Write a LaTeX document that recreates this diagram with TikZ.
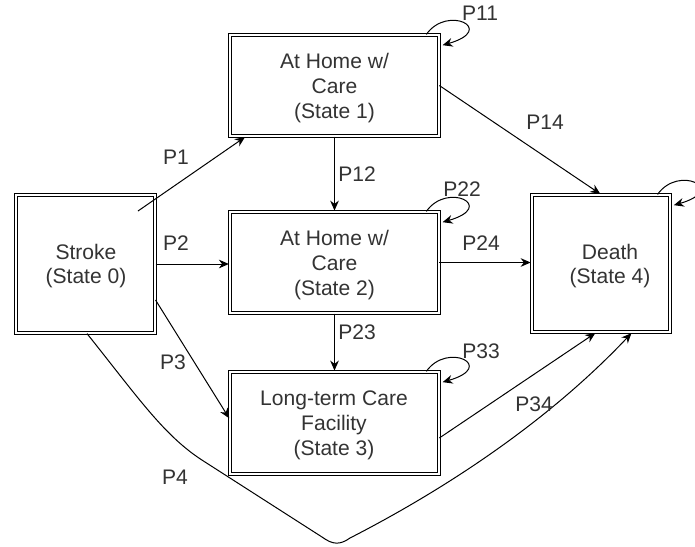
\documentclass[tikz,border=0pt]{standalone}
\usepackage{fontspec}
\setmainfont{Liberation Sans}
\usetikzlibrary{arrows.meta,calc}
\begin{document}
\begin{tikzpicture}[x=0.75pt,y=-0.75pt,
  txt/.style={font=\fontsize{15.8}{18.6}\selectfont, text=black!80},
  state/.style={draw=black, line width=0.85pt, double=white,
    double distance=1.4pt, inner sep=0pt},
  statetext/.style={txt, align=center, inner sep=0pt},
  lbl/.style={txt, inner sep=0pt},
  arr/.style={draw=black, line width=0.75pt,
    -{Stealth[length=7.5pt,width=6.5pt]}, shorten >=0.6pt}]
\useasboundingbox (0,0) rectangle (695,546);
\clip (0,0) rectangle (695,546);

% states
\node[state, minimum width=104.2pt, minimum height=103.5pt] (s0) at (85.5,264) {};
\node[state, minimum width=156.4pt, minimum height=75.8pt] (s1) at (334.5,85.5) {};
\node[state, minimum width=156.4pt, minimum height=75.8pt] (s2) at (334.5,262.5) {};
\node[state, minimum width=156.4pt, minimum height=76.6pt] (s3) at (334.5,423) {};
\node[state, minimum width=103.5pt, minimum height=102.8pt] (s4) at (601,263.5) {};

% state texts
\node[statetext] (s0t) at (86,266) {Stroke\\(State 0)};
\node[statetext] (s1t) at (334.5,88) {At Home w/\\Care\\(State 1)};
\node[statetext] (s2t) at (334.5,265) {At Home w/\\Care\\(State 2)};
\node[statetext] (s3t) at (334,425.5) {Long-term Care\\Facility\\(State 3)};
\node[statetext] (s4t) at (610,266) {Death\\(State 4)};

% self loops at the top right corner of a state
\newcommand\selfloop[1]{%
  \draw[arr] ($(#1.north east)+(-13,0)$)
    .. controls ($(#1.north east)+(8,-30)$) and ($(#1.north east)+(58,-5)$)
    .. ($(#1.north east)+(2.5,11)$);}

% transitions
\coordinate (p1s) at (138,211);
\draw[arr] (p1s) -- ($(s1.south west)+(16,0)$);
\draw[arr] (s0.east) -- (s0.east -| s2.west);
\draw[arr] ($(s0.east)+(0,36)$) -- ($(s3.west)+(0,-4)$);
\draw[arr] (s1.south) -- (s2.north);
\draw[arr] (s2.south) -- (s3.north);
\draw[arr] (s1.east) -- (s4.north);
\draw[arr] (s2.east) -- (s2.east -| s4.west);
\draw[arr] ($(s3.east)+(0,15)$) -- ($(s4.south)+(-5,0)$);
\coordinate (p4e) at ($(s4.south)+(31,0)$);
\draw[arr] ($(s0.south)+(1.5,0)$) .. controls (140,400) and (165,437) .. (205,462)
  -- (322,537) .. controls (333,545) and (340,545) .. (350,538)
  .. controls (430,497) and (540,430) .. (p4e);

\selfloop{s1}
\selfloop{s2}
\selfloop{s3}
\selfloop{s4}

% transition labels
\node[lbl] (l11) at (480,13) {P11};
\node[lbl] (l1) at (176,157) {P1};
\node[lbl] (l12) at (357,174) {P12};
\node[lbl] (l14) at (545,122) {P14};
\node[lbl] (l22) at (462,189) {P22};
\node[lbl] (l2) at (176,243) {P2};
\node[lbl] (l24) at (481,243) {P24};
\node[lbl] (l23) at (357,332) {P23};
\node[lbl] (l3) at (173,362) {P3};
\node[lbl] (l33) at (481,351) {P33};
\node[lbl] (l34) at (534,404) {P34};
\node[lbl] (l4) at (175,477) {P4};
\node[lbl, anchor=west] (l44) at (694,170) {P44};
\end{tikzpicture}
\end{document}
